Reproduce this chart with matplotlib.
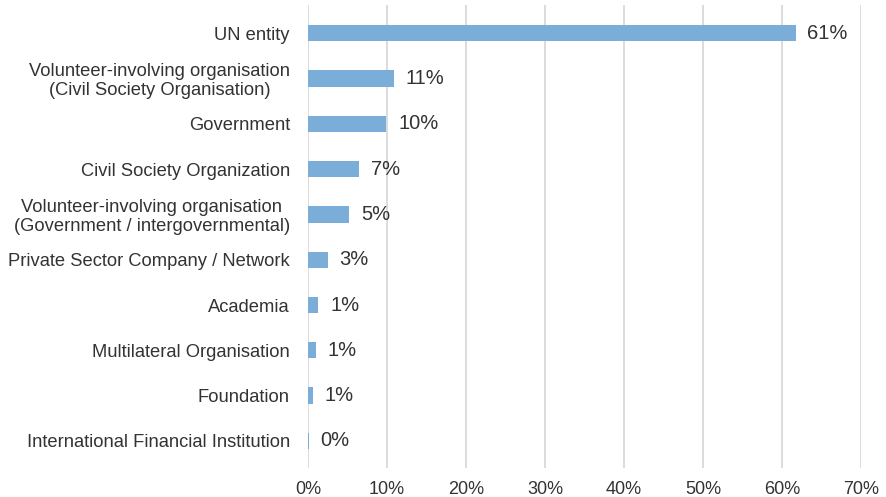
import matplotlib
matplotlib.use("Agg")
import matplotlib.pyplot as plt

categories = [
    "UN entity",
    "Volunteer-involving organisation\n(Civil Society Organisation)",
    "Government",
    "Civil Society Organization",
    "Volunteer-involving organisation\n(Government / intergovernmental)",
    "Private Sector Company / Network",
    "Academia",
    "Multilateral Organisation",
    "Foundation",
    "International Financial Institution",
]
values = [61.7, 10.9, 9.9, 6.5, 5.2, 2.5, 1.3, 1.0, 0.6, 0.1]
value_labels = ["61%", "11%", "10%", "7%", "5%", "3%", "1%", "1%", "1%", "0%"]
xticks = [0, 10, 20, 30, 40, 50, 60, 70]

plt.rcParams['font.family'] = ['Liberation Sans', 'DejaVu Sans']

fig = plt.figure(figsize=(8.86, 4.97), dpi=100)
ax = fig.add_axes([0.3476, 0.058, 0.6244, 0.932])

y = list(range(len(categories)))
ax.barh(y, values, height=0.36, color="#7aaed8", zorder=3)
for yi, v, lab in zip(y, values, value_labels):
    ax.text(v + 1.5, yi, lab, va="center", ha="left", fontsize=14.5, color="#333333")

ax.set_ylim(9.6, -0.62)
ax.set_xlim(0, 70)
ax.set_yticks(y)
ax.set_yticklabels(categories, fontsize=13.2, color="#333333", linespacing=1.15,
                   multialignment="center")
ax.set_xticks(xticks)
ax.set_xticklabels([f"{t}%" for t in xticks], fontsize=13, color="#333333")
ax.tick_params(axis="both", length=0)
ax.tick_params(axis="y", pad=13)
ax.tick_params(axis="x", pad=9)
for s in ax.spines.values():
    s.set_visible(False)
ax.xaxis.grid(True, color="#d9d9d9", linewidth=1.3, zorder=0)
ax.set_axisbelow(True)

fig.savefig("out.png", dpi=100)
